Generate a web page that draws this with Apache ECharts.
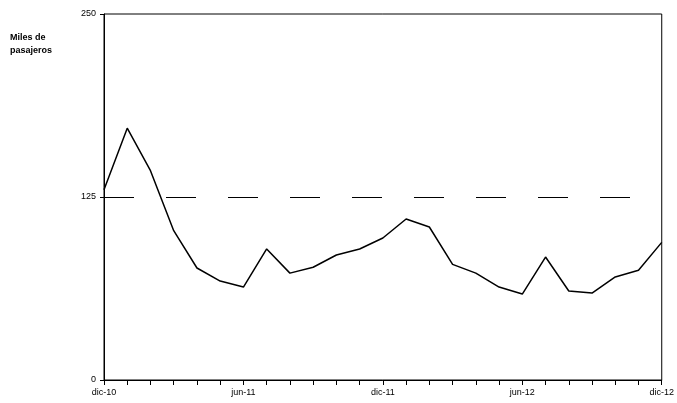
<!DOCTYPE html>
<html><head><meta charset="utf-8">
<script src="https://cdn.jsdelivr.net/npm/echarts@6/dist/echarts.min.js"></script>
<style>html,body{margin:0;padding:0;background:#fff}#main{width:677px;height:403px}</style>
</head><body><div id="main"></div>
<script>
var months = ['dic-10','ene-11','feb-11','mar-11','abr-11','may-11','jun-11','jul-11','ago-11','sep-11','oct-11','nov-11','dic-11',
              'ene-12','feb-12','mar-12','abr-12','may-12','jun-12','jul-12','ago-12','sep-12','oct-12','nov-12','dic-12'];
var pasajeros = [130, 172, 143, 102, 76.5, 67.6, 63.5, 89.5, 73, 77, 85.4, 89.5, 97,
                 110, 104.5, 79, 73, 63.5, 58.7, 84, 60.8, 59.4, 70.4, 75, 94];
var referencia = 125;
var yTicks = [0, 125, 250];

var myChart = echarts.init(document.getElementById('main'));
var font = 'Arial, "Liberation Sans", sans-serif';
var option = {
    animation: false,
    textStyle: {fontFamily: font},
    graphic: [{type: 'text', left: 10, top: 31,
        style: {text: 'Miles de\npasajeros', font: 'bold 9px ' + font, fill: '#000', lineHeight: 13}}],
    grid: {left: 104, right: 14, top: 14, bottom: 23, show: true, borderColor: '#000', borderWidth: 1},
    xAxis: {
        type: 'category', data: months, boundaryGap: false,
        axisLine: {lineStyle: {color: '#000'}},
        axisTick: {show: true, inside: false, length: 5, interval: 0, lineStyle: {color: '#000'}},
        axisLabel: {interval: 5, color: '#000', fontSize: 9, margin: 8, fontFamily: font},
        splitLine: {show: false}
    },
    yAxis: {
        type: 'value', min: 0, max: 250, interval: 125,
        axisLine: {show: true, lineStyle: {color: '#000'}},
        axisTick: {show: true, length: 4, lineStyle: {color: '#000'}},
        axisLabel: {color: '#000', fontSize: 9, fontFamily: font,
            formatter: function (v) { return yTicks.indexOf(v) >= 0 ? v : ''; }},
        splitLine: {show: false}
    },
    series: [{
        type: 'line', data: pasajeros, symbol: 'none',
        lineStyle: {color: '#000', width: 1.5},
        markLine: {silent: true, symbol: 'none', label: {show: false},
            lineStyle: {color: '#000', type: [30, 32], width: 1},
            data: [{yAxis: referencia}]}
    }]
};
myChart.setOption(option);
</script></body></html>
